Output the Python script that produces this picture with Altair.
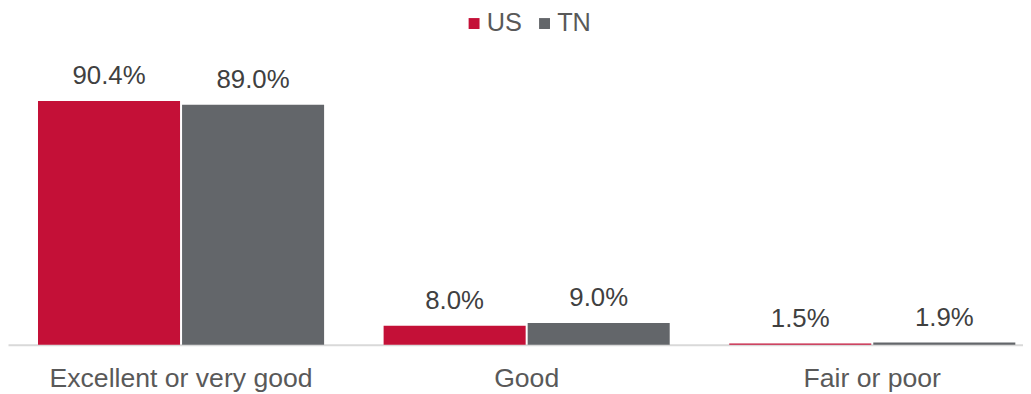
import altair as alt
import pandas as pd

categories = ["Excellent or very good", "Good", "Fair or poor"]
series = ["US", "TN"]
us_values = [90.4, 8.0, 1.5]
tn_values = [89.0, 9.0, 1.9]
colors = ["#C41037", "#63666A"]

rows = []
for c, u, t in zip(categories, us_values, tn_values):
    rows.append({"cat": c, "series": "US", "value": u, "label": f"{u:.1f}%"})
    rows.append({"cat": c, "series": "TN", "value": t, "label": f"{t:.1f}%"})
df = pd.DataFrame(rows)

W = 1023
H = 328
FONT = "Liberation Sans"

x_enc = alt.X("cat:N", sort=categories, title=None,
              scale=alt.Scale(range=[0, 1045.5], paddingInner=0.1722, paddingOuter=0.0868),
              axis=alt.Axis(labelAngle=0, labelFontSize=26.8, labelFont=FONT, labelColor="#595959",
                            labelBaseline="alphabetic", labelPadding=42, ticks=False,
                            domainColor="#D9D9D9", domainWidth=2, labelLimit=400))
xo_enc = alt.XOffset("series:N", sort=series, scale=alt.Scale(paddingInner=0.014, paddingOuter=0))
y_scale = alt.Scale(domain=[1, 120.27], zero=False, nice=False)

bars = alt.Chart(df).mark_bar(clip=True).encode(
    x=x_enc,
    xOffset=xo_enc,
    y=alt.Y("value:Q", scale=y_scale, axis=None),
    color=alt.Color("series:N", sort=series,
                    scale=alt.Scale(domain=series, range=colors),
                    legend=alt.Legend(title=None, orient="none", direction="horizontal",
                                      legendX=457, legendY=-9, symbolType="square",
                                      symbolSize=121, symbolStrokeWidth=0,
                                      labelFontSize=25.5, labelFont=FONT, labelColor="#595959",
                                      labelOffset=0, columnPadding=10, padding=0)),
)

labels = alt.Chart(df).mark_text(fontSize=26, font=FONT, color="#404040",
                                 baseline="alphabetic", dy=-17).encode(
    x=alt.X("cat:N", sort=categories),
    xOffset=alt.XOffset("series:N", sort=series),
    y=alt.Y("value:Q", scale=y_scale),
    text="label:N",
)

chart = (bars + labels).properties(
    width=W, height=H,
    autosize=alt.AutoSizeParams(type="none"),
    padding={"left": 0, "top": 10, "right": 0, "bottom": 48},
).configure_view(stroke=None)

chart.save("out.html", embed_options={"renderer": "svg", "actions": False})
